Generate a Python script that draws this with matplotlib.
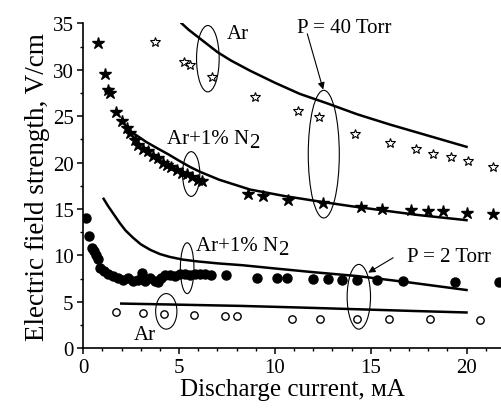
import matplotlib

matplotlib.use("Agg")
import matplotlib.pyplot as plt  # noqa: E402
from matplotlib.patches import Ellipse  # noqa: E402
from matplotlib.ticker import MultipleLocator  # noqa: E402

plt.rcParams["font.family"] = ["Liberation Serif", "DejaVu Serif"]

# 40 Torr, Ar (open stars) and Ar+1% N2 (filled stars)
ar40_x = [3.74, 5.25, 5.57, 6.7, 8.96, 11.2, 12.3, 14.2, 16.0, 17.35, 18.24, 19.2, 20.1, 21.4]
ar40_y = [33.0, 30.8, 30.5, 29.2, 27.1, 25.6, 24.9, 23.1, 22.1, 21.5, 20.9, 20.6, 20.2, 19.5]

n40_x = [0.78, 1.13, 1.3, 1.39, 1.69, 2.0, 2.26, 2.44, 2.7, 2.87, 3.13, 3.39, 3.65, 3.9,
         4.17, 4.35, 4.6, 4.87, 5.13, 5.4, 5.65, 6.0, 6.18,
         8.6, 9.4, 10.7, 12.5, 14.5, 15.6, 17.1, 17.97, 18.75, 20.0, 21.4]
n40_y = [32.9, 29.5, 27.8, 27.5, 25.5, 24.5, 23.7, 23.15, 22.4, 21.9, 21.5, 21.2, 20.7, 20.5,
         20.0, 19.75, 19.5, 19.2, 18.9, 18.8, 18.5, 18.1, 18.0,
         16.6, 16.4, 16.0, 15.65, 15.2, 15.0, 14.85, 14.8, 14.75, 14.6, 14.5]

# 2 Torr, Ar+1% N2 (filled circles) and Ar (open circles)
n2_x = [0.12, 0.3, 0.47, 0.56, 0.68, 0.77, 0.85, 1.06, 1.29, 1.55, 1.81, 2.07, 2.33, 2.6,
        2.85, 3.08, 3.2, 3.46, 3.72, 3.9, 4.07, 4.25, 4.5, 4.77, 5.03, 5.29, 5.55, 5.81,
        6.07, 6.33, 6.68, 7.46,
        9.05, 10.1, 10.65, 11.97, 12.75, 13.5, 14.26, 15.34, 16.7, 19.39, 21.7]
n2_y = [14.0, 12.1, 10.8, 10.5, 10.1, 9.6, 8.7, 8.3, 7.96, 7.8, 7.6, 7.4, 7.6, 7.3,
        7.4, 8.1, 7.25, 7.6, 7.3, 7.1, 7.6, 7.85, 7.9, 7.8, 7.96, 7.96, 7.9, 7.96,
        7.96, 7.96, 7.9, 7.85,
        7.6, 7.6, 7.6, 7.5, 7.43, 7.36, 7.36, 7.32, 7.25, 7.18, 7.14]

ar2_x = [1.69, 3.11, 4.19, 5.78, 7.38, 8.02, 10.87, 12.35, 14.3, 15.96, 18.1, 20.7]
ar2_y = [3.86, 3.78, 3.67, 3.6, 3.5, 3.5, 3.2, 3.2, 3.14, 3.14, 3.14, 3.07]

# model curves
ar40_line_x = [5.13, 5.5, 6.0, 6.5, 7.0, 7.7, 8.7, 10.0, 11.3, 12.7, 14.3, 16.0, 18.0, 20.0]
ar40_line_y = [35.0, 34.3, 33.5, 32.7, 31.9, 31.0, 29.9, 28.6, 27.4, 26.4, 25.2, 24.1, 22.9, 21.7]
n40_line_x = [2.35, 2.8, 3.3, 3.9, 4.43, 5.0, 5.6, 6.1, 7.1, 8.7, 10.5, 12.35, 14.0, 15.1,
              17.5, 20.0]
n40_line_y = [23.5, 22.9, 22.2, 21.5, 20.9, 20.2, 19.5, 19.0, 18.15, 17.1, 16.4, 15.8, 15.3,
              15.0, 14.35, 13.8]
n2_line_x = [1.06, 1.3, 1.6, 1.9, 2.2, 2.6, 3.0, 3.5, 4.0, 4.5, 5.2, 6.0, 7.0, 8.3, 10.0,
             12.0, 14.3, 17.0, 20.0]
n2_line_y = [16.1, 15.3, 14.4, 13.5, 12.7, 11.9, 11.2, 10.6, 10.15, 9.85, 9.55, 9.35, 9.15,
             8.95, 8.6, 8.2, 7.78, 7.1, 6.28]
ar2_line_x = [1.98, 5.0, 8.17, 11.2, 14.26, 17.1, 20.0]
ar2_line_y = [4.82, 4.7, 4.57, 4.4, 4.21, 4.03, 3.86]

# ellipses: centre x, centre y, width, height (data units)
ellipses = [
    (6.5, 31.19, 1.18, 7.15),
    (5.63, 18.77, 0.90, 4.82),
    (12.55, 20.91, 1.62, 13.75),
    (5.42, 8.63, 0.71, 5.47),
    (4.33, 3.98, 1.11, 3.83),
    (14.38, 5.55, 1.22, 6.97),
]

fig = plt.figure(figsize=(5.01, 4.10), dpi=100)
ax = fig.add_axes([0.1663, 0.148, 0.8337, 0.7927])

lw = 1.8
for lx, ly in [(ar40_line_x, ar40_line_y), (n40_line_x, n40_line_y),
               (n2_line_x, n2_line_y), (ar2_line_x, ar2_line_y)]:
    ax.plot(lx, ly, color="black", lw=lw, solid_joinstyle="round")

ax.plot(ar40_x, ar40_y, ls="none", marker="*", ms=7, mfc="white", mec="black", mew=0.8)
ax.plot(n40_x, n40_y, ls="none", marker="*", ms=9, color="black")
ax.plot(n2_x, n2_y, ls="none", marker="o", ms=6.5, color="black")
ax.plot(ar2_x, ar2_y, ls="none", marker="o", ms=5.3, mfc="white", mec="black", mew=1.0)

for cx, cy, w, h in ellipses:
    ax.add_patch(Ellipse((cx, cy), w, h, fill=False, ec="black", lw=0.8))

fs = 15
ax.text(7.48, 33.37, "Ar", fontsize=fs, va="baseline")
ax.text(2.61, 1.0, "Ar", fontsize=fs, va="baseline")
ax.text(11.13, 34.04, "P = 40 Torr", fontsize=fs, va="baseline")
ax.text(16.87, 9.39, "P = 2 Torr", fontsize=fs, va="baseline")
for tx, ty in [(4.35, 22.08), (5.88, 10.64)]:
    t = ax.text(tx, ty, "Ar+1% N", fontsize=fs, va="baseline")
    ax.annotate("2", xy=(1, 0), xycoords=t, xytext=(0, -3), textcoords="offset points",
                fontsize=fs, va="bottom", ha="left")

arrow = dict(arrowstyle="-|>", color="black", lw=0.8, mutation_scale=10, shrinkA=0, shrinkB=0)
ax.annotate("", xy=(12.52, 27.87), xytext=(11.69, 33.87), arrowprops=arrow)
ax.annotate("", xy=(14.87, 8.15), xytext=(16.17, 9.75), arrowprops=arrow)

ax.set_xlim(0, 21.8)
ax.set_ylim(0, 35)
ax.xaxis.set_major_locator(MultipleLocator(5))
ax.xaxis.set_minor_locator(MultipleLocator(1))
ax.yaxis.set_major_locator(MultipleLocator(5))
ax.yaxis.set_minor_locator(MultipleLocator(2.5))
ax.spines["top"].set_visible(False)
ax.spines["right"].set_visible(False)
for s in ("left", "bottom"):
    ax.spines[s].set_linewidth(1.2)
ax.tick_params(which="major", direction="out", length=4.5, width=1.1, labelsize=15, pad=2.5)
ax.tick_params(which="minor", direction="out", length=2.5, width=1.0)

ax.set_xlabel("Discharge current, мА", fontsize=18, labelpad=1)
ax.set_ylabel("Electric field strength, V/cm", fontsize=19.5, labelpad=2)

fig.savefig("out.png", dpi=100)
